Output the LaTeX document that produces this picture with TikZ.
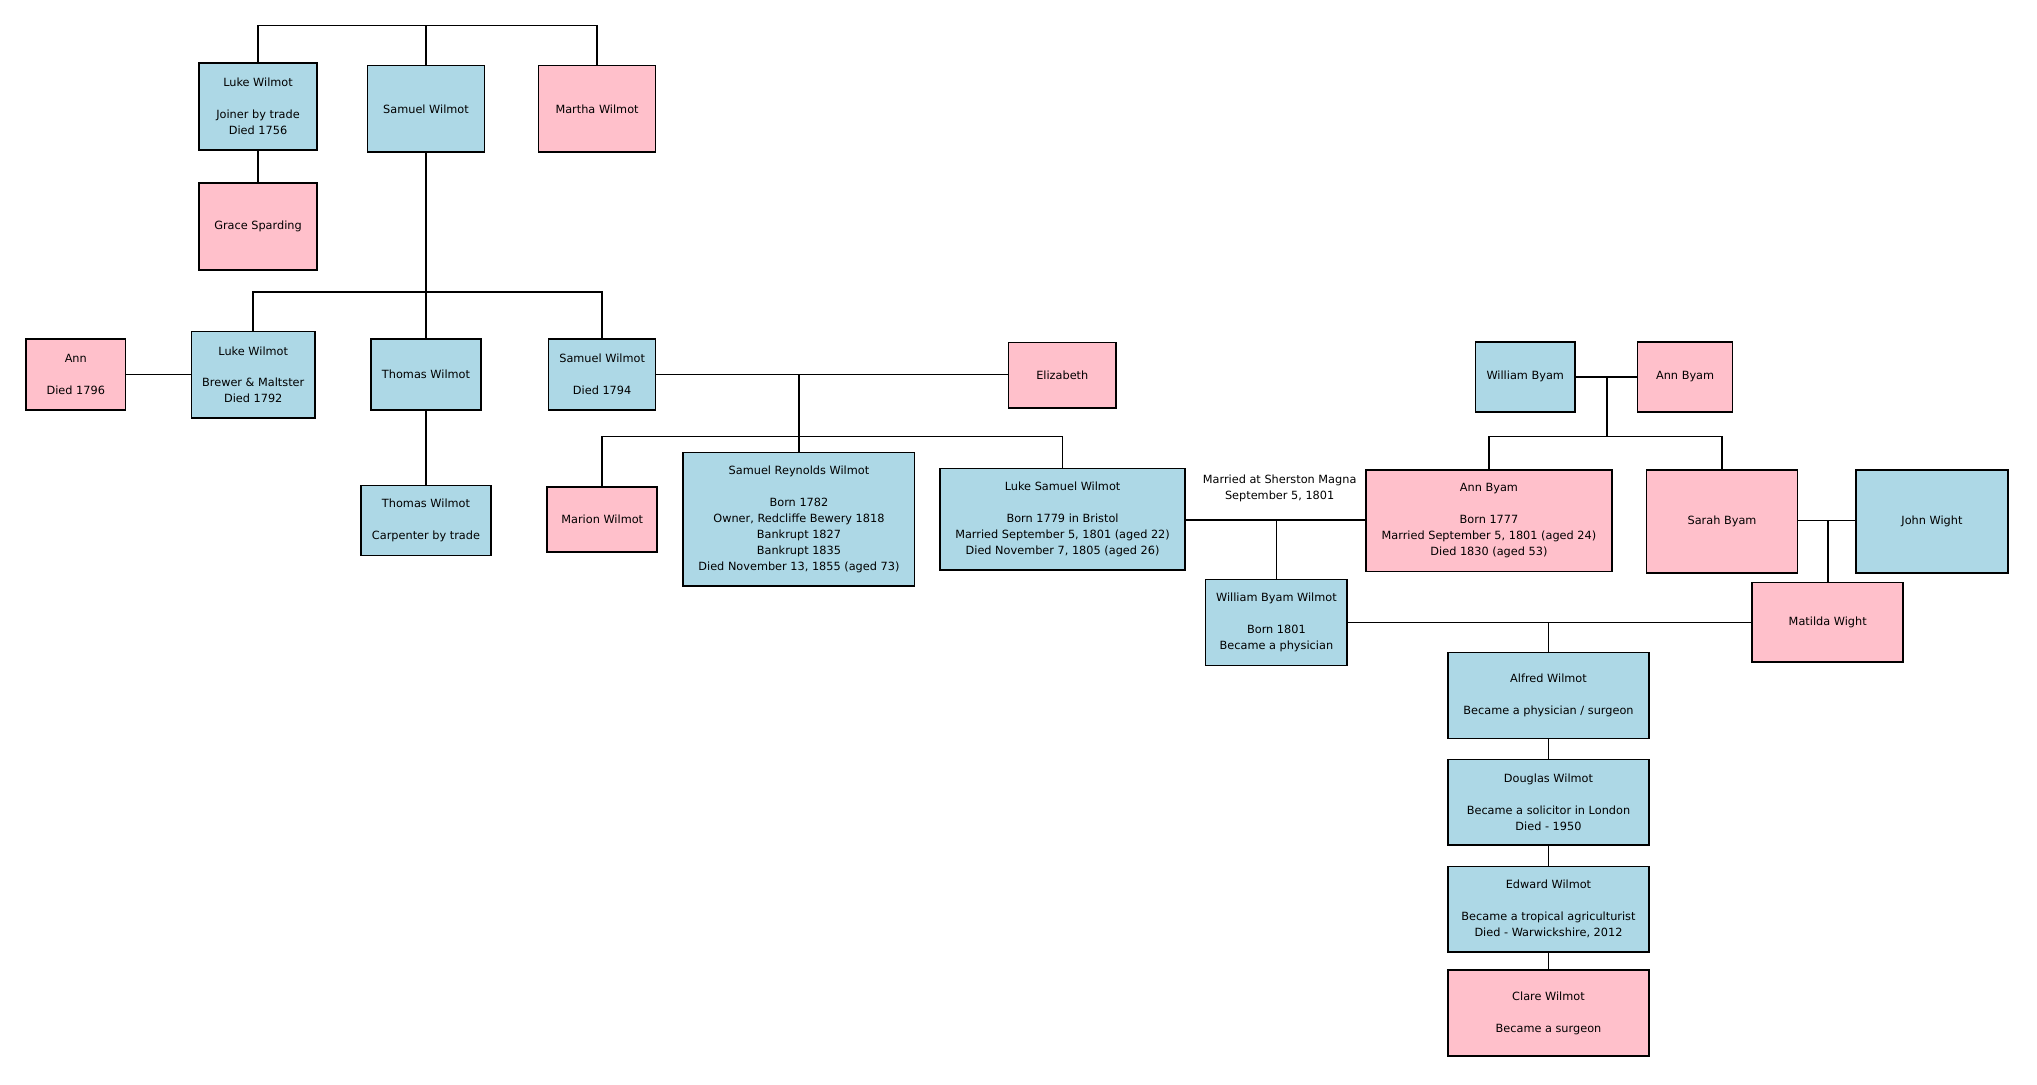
\documentclass[tikz,border=0pt]{standalone}
\usepackage{fontspec}
\setmainfont{DejaVu Sans}
\definecolor{maleblue}{RGB}{173,216,230}
\definecolor{femalepink}{RGB}{255,192,203}

\begin{document}
\begin{tikzpicture}[x=1pt, y=1pt, line width=1.3pt,
    person/.style={draw, line width=1.3pt, align=center, inner sep=0pt,
      font=\fontsize{8.7}{12.3}\selectfont},
    male/.style={person, fill=maleblue},
    female/.style={person, fill=femalepink},
    wh/.style 2 args={minimum width=#1pt, minimum height=#2pt}]
    \useasboundingbox (0,0) rectangle (1567,-834);
    % first generation
    \node[male, wh={90.4}{66.6}] (luke1) at (198.5,-82) {Luke Wilmot\\[\baselineskip]Joiner by trade\\Died 1756};
    \node[male, wh={90}{66.6}] (samuel1) at (327.7,-83.8) {Samuel Wilmot};
    \node[female, wh={90}{66.6}] (martha) at (459.3,-83.8) {Martha Wilmot};
    \node[female, wh={90.4}{66.6}] (grace) at (198.5,-174.2) {Grace Sparding};
    % second generation
    \node[female, wh={76.7}{54.3}] (ann) at (58.3,-288) {Ann\\[\baselineskip]Died 1796};
    \node[male, wh={95}{66.6}] (luke2) at (194.8,-288.3) {Luke Wilmot\\[\baselineskip]Brewer \& Maltster\\Died 1792};
    \node[male, wh={85}{54.3}] (thomas1) at (327.7,-288) {Thomas Wilmot};
    \node[male, wh={82.3}{54.3}] (samuel2) at (463.2,-288) {Samuel Wilmot\\[\baselineskip]Died 1794};
    \node[female, wh={82.7}{50.2}] (elizabeth) at (817.2,-288.5) {Elizabeth};
    \node[male, wh={99.7}{54}] (thomas2) at (327.7,-400.4) {Thomas Wilmot\\[\baselineskip]Carpenter by trade};
    % third generation
    \node[female, wh={84.7}{50}] (marion) at (463.3,-399.8) {Marion Wilmot};
    \node[male, wh={178}{103}] (reynolds) at (614.6,-399.5) {Samuel Reynolds Wilmot\\[\baselineskip]Born 1782\\Owner, Redcliffe Bewery 1818\\Bankrupt 1827\\Bankrupt 1835\\Died November 13, 1855 (aged 73)};
    \node[male, wh={188.7}{78.4}] (lukesam) at (817.4,-399.5) {Luke Samuel Wilmot\\[\baselineskip]Born 1779 in Bristol\\Married September 5, 1801 (aged 22)\\Died November 7, 1805 (aged 26)};
    % Byam and Wight side
    \node[male, wh={76.3}{53.8}] (wbyam) at (1173.3,-289.8) {William Byam};
    \node[female, wh={73.1}{53.8}] (abyam1) at (1296.3,-289.8) {Ann Byam};
    \node[female, wh={188.8}{78.4}] (abyam2) at (1145.4,-400.5) {Ann Byam\\[\baselineskip]Born 1777\\Married September 5, 1801 (aged 24)\\Died 1830 (aged 53)};
    \node[female, wh={116.3}{79.4}] (sarah) at (1324.7,-401) {Sarah Byam};
    \node[male, wh={116.6}{79.4}] (john) at (1486.2,-401) {John Wight};
    \node[female, wh={116.2}{61}] (matilda) at (1406,-478.6) {Matilda Wight};
    \node[male, wh={108.9}{66.1}] (wbw) at (981.9,-478.8) {William Byam Wilmot\\[\baselineskip]Born 1801\\Became a physician};
    % descendants
    \node[male, wh={154.5}{66}] (alfred) at (1191.2,-535) {Alfred Wilmot\\[\baselineskip]Became a physician / surgeon};
    \node[male, wh={154.5}{66}] (douglas) at (1191.2,-617.2) {Douglas Wilmot\\[\baselineskip]Became a solicitor in London\\Died - 1950};
    \node[male, wh={154.5}{66}] (edward) at (1191.2,-699.5) {Edward Wilmot\\[\baselineskip]Became a tropical agriculturist\\Died - Warwickshire, 2012};
    \node[female, wh={154.5}{66}] (clare) at (1191.2,-779.3) {Clare Wilmot\\[\baselineskip]Became a surgeon};
    \node[align=center, font=\fontsize{8.7}{12.3}\selectfont] (wedding) at (984.4,-375.7) {Married at Sherston Magna\\September 5, 1801};
    % junctions
    \coordinate (top) at (327.7,-19.7);
    \coordinate (kids1) at (327.7,-224.4);
    \coordinate (m2) at (614.6,-288.3);
    \coordinate (kids2) at (614.6,-335.7);
    \coordinate (m3) at (981.9,-400.2);
    \coordinate (m4) at (1236.2,-289.8);
    \coordinate (kids4) at (1236.2,-335.9);
    \coordinate (m5) at (1406,-400.5);
    \coordinate (m6) at (1191.2,-478.9);
    % connectors
    \draw (luke1.north) |- (top) -| (martha.north);
    \draw (samuel1.north) -- (top);
    \draw (luke1.south) -- (grace.north);
    \draw (samuel1.south) -- (thomas1.north);
    \draw (luke2.north) |- (kids1) -| (samuel2.north);
    \draw (ann.east) -- (ann.east -| luke2.west);
    \draw (thomas1.south) -- (thomas2.north);
    \draw (samuel2.east) -- (samuel2.east -| elizabeth.west);
    \draw (m2) -- (reynolds.north);
    \draw (marion.north) |- (kids2) -| (lukesam.north);
    \draw (lukesam.east |- m3) -- (abyam2.west |- m3);
    \draw (m3) -- (wbw.north);
    \draw (wbyam.east) -- (abyam1.west);
    \draw (m4) -- (kids4);
    \draw (abyam2.north) |- (kids4) -| (sarah.north);
    \draw (sarah.east |- m5) -- (john.west |- m5);
    \draw (m5) -- (matilda.north);
    \draw (wbw.east |- m6) -- (matilda.west |- m6);
    \draw (m6) -- (alfred.north);
    \draw (alfred.south) -- (douglas.north);
    \draw (douglas.south) -- (edward.north);
    \draw (edward.south) -- (clare.north);
\end{tikzpicture}
\end{document}
